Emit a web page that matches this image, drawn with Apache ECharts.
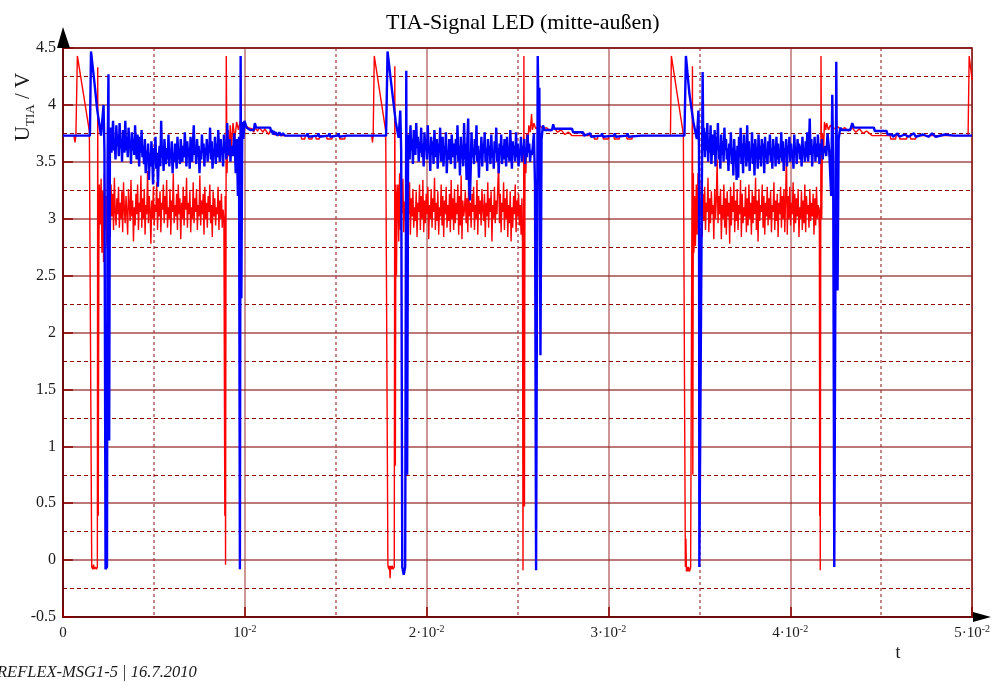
<!DOCTYPE html>
<html>
<head>
<meta charset="utf-8">
<script src="https://cdn.jsdelivr.net/npm/echarts@6/dist/echarts.min.js"></script>
<style>
  html, body { margin: 0; padding: 0; background: #fff; }
  #chart { width: 993px; height: 682px; }
</style>
</head>
<body>
<div id="chart"></div>
<script>
// time in ms (axis labels shown in seconds: 10 ms = 10^-2 s)
var xTicks = [0, 10, 20, 30, 40, 50];
var yTicks = [-0.5, 0, 0.5, 1, 1.5, 2, 2.5, 3, 3.5, 4, 4.5];

// ---- red trace ----
var redStart1 = [[0,3.73],[0.60,3.73],[0.66,3.67],[0.71,3.73],[0.79,4.43],[1.45,3.77],[1.54,3.76],[1.58,-0.06],[1.64,-0.08],[1.68,-0.04],[1.72,-0.08],[1.78,-0.06],[1.84,-0.08],[1.89,-0.06],[1.91,4.33],[1.94,0.39],[1.97,2.62],[2.0,3.3]];
var redNoise1 = [
  2.95,3.35,2.70,3.25,2.62,3.40,2.90,3.20,2.76,3.45,
  2.98,3.16,2.84,3.30,3.02,3.22,2.90,3.36,3.06,2.94,
  3.18,3.04,3.28,2.92,3.14,3.00,3.24,2.88,3.32,3.08,
  2.96,3.20,3.06,2.86,3.26,3.12,2.98,3.34,3.02,3.16,
  2.80,3.10,2.94,3.22,3.04,3.30,2.90,3.14,3.06,3.38,
  2.92,3.18,3.00,3.26,2.86,3.12,3.04,3.42,2.96,3.20,
  3.08,2.78,3.16,3.00,3.28,2.94,3.12,3.06,3.32,2.90,
  3.18,3.02,3.24,2.88,3.14,3.08,3.30,2.96,3.20,3.04,
  3.34,2.92,3.10,3.00,3.26,2.86,3.16,3.06,3.40,2.96,
  3.12,3.02,3.22,2.90,3.30,3.04,3.18,2.82,3.14,3.00,
  3.28,2.94,3.20,3.08,3.36,2.92,3.14,3.04,3.24,2.88,
  3.10,3.00,3.32,2.96,3.18,3.06,3.26,2.90,3.12,3.02,
  3.38,2.94,3.16,3.04,3.22,2.86,3.28,3.00,3.14,2.92,
  3.20,3.06,3.30,2.96,3.12,2.84,3.24,3.02,3.18,2.94,
  3.10,3.04,3.28,2.90,3.16,3.00,3.22,2.92,3.08,3.00];
var redTail1 = [[8.88,3.0],[8.90,0.39],[8.92,3.2],[8.94,-0.04],[8.98,4.43],[9.02,3.4],[9.08,3.78],[9.12,3.55],[9.2,3.82],[9.26,3.62],[9.35,3.84],[9.45,3.70],[9.55,3.85],[9.65,3.78],[9.75,3.86],[9.85,3.80],[10.0,3.82],[10.2,3.80],[10.4,3.79],[10.5,3.76],[10.55,3.80],[10.7,3.77],[10.8,3.80],[11.0,3.76],[11.1,3.79],[11.3,3.74],[11.4,3.77],[11.6,3.74],[12.0,3.73],[13.1,3.73],[13.12,3.70],[13.3,3.70],[13.32,3.73],[13.5,3.73],[13.52,3.70],[13.7,3.70],[13.72,3.73],[13.9,3.73],[13.92,3.70],[14.1,3.70],[14.12,3.73],[14.5,3.73],[14.52,3.70],[14.8,3.70],[14.82,3.73],[15.2,3.73],[15.22,3.70],[15.5,3.70],[15.52,3.73]];
var redStart2 = [[16.98,3.73],[17.02,3.67],[17.06,3.73],[17.12,4.43],[17.75,3.77],[17.83,3.76],[17.87,-0.05],[17.92,-0.08],[17.96,-0.05],[17.99,-0.16],[18.02,-0.05],[18.06,-0.08],[18.10,-0.05],[18.15,-0.08],[18.22,-0.06],[18.25,4.34],[18.28,0.83],[18.31,3.3],[18.34,2.5],[18.38,3.2]];
var redNoise2 = [
  3.30,2.80,3.40,2.90,3.20,3.05,3.35,2.88,3.15,3.00,
  3.28,2.94,3.12,3.04,3.32,2.86,3.18,3.02,3.26,2.92,
  3.10,2.98,3.24,2.84,3.14,3.06,3.30,2.90,3.20,3.00,
  3.34,2.88,3.16,2.96,3.22,3.04,3.28,2.82,3.12,3.00,
  3.26,2.92,3.18,3.06,3.36,2.90,3.14,2.98,3.24,2.86,
  3.10,3.02,3.30,2.94,3.20,2.84,3.16,3.04,3.28,2.92,
  3.12,2.98,3.22,2.88,3.34,3.00,3.18,2.90,3.26,2.96,
  3.14,3.04,3.30,2.86,3.20,2.94,3.38,2.82,3.16,3.02,
  3.08,3.24,2.96,3.18,2.88,3.30,3.02,3.14,2.92,3.22,
  3.06,3.28,2.90,3.12,3.00,3.34,2.86,3.20,3.04,3.16,
  2.94,3.26,3.08,2.98,3.22,2.84,3.14,3.02,3.32,2.92,
  3.18,3.06,3.24,2.80,3.12,3.00,3.28,2.96,3.16,3.04,
  3.28,3.48,2.96,3.22,2.88,3.14,3.06,3.32,2.90,3.18,
  3.00,3.26,2.84,3.12,2.96,3.24,2.80,3.10,2.92,3.20,
  3.04,3.30,2.88,3.16,3.02,3.22,2.94,3.12,2.86,3.18];
var redTail2 = [[25.27,2.8],[25.30,-0.09],[25.35,4.43],[25.38,0.47],[25.41,3.6],[25.46,3.4],[25.50,3.75],[25.56,3.6],[25.62,3.82],[25.70,3.76],[25.77,3.92],[25.82,3.78],[25.90,3.84],[26.0,3.79],[26.2,3.82],[26.4,3.79],[26.6,3.80],[26.8,3.77],[27.0,3.80],[27.2,3.76],[27.4,3.78],[27.6,3.74],[27.8,3.76],[28.0,3.73],[29.2,3.73],[29.22,3.70],[29.4,3.70],[29.42,3.73],[29.7,3.73],[29.72,3.70],[30.0,3.70],[30.02,3.73],[30.3,3.73],[30.32,3.70],[30.6,3.70],[30.62,3.73],[31.0,3.73],[31.02,3.70],[31.3,3.70],[31.32,3.73]];
var redStart3 = [[33.41,3.73],[33.46,4.43],[34.12,3.74],[34.20,3.74],[34.23,-0.06],[34.26,0.19],[34.29,-0.1],[34.33,-0.06],[34.37,-0.1],[34.41,-0.06],[34.45,-0.1],[34.52,-0.07],[34.58,-0.06],[34.62,4.34],[34.64,0.75],[34.67,3.4],[34.70,2.7]];
var redNoise3 = [
  3.20,2.76,3.30,2.86,3.40,2.94,3.16,3.02,3.34,2.84,
  3.22,2.98,3.28,2.90,3.14,3.06,3.36,2.88,3.18,2.96,
  3.24,3.04,3.12,2.82,3.26,3.00,3.18,3.52,2.96,3.20,
  3.04,3.26,2.82,3.12,3.00,3.30,2.92,3.18,2.86,3.24,
  3.02,3.14,2.78,3.28,2.94,3.20,3.06,3.32,2.88,3.16,
  2.98,3.26,2.90,3.12,3.04,3.34,2.84,3.22,2.96,3.10,
  3.02,3.28,2.88,3.18,2.94,3.30,3.00,3.14,2.86,3.24,
  2.96,3.20,3.04,3.36,2.90,3.16,2.80,3.26,2.98,3.12,
  3.06,3.30,2.92,3.20,2.86,3.14,3.02,3.28,2.94,3.18,
  3.00,3.24,2.88,3.12,3.06,3.32,2.90,3.16,2.98,3.22,
  2.84,3.14,3.04,3.28,2.92,3.20,3.00,3.26,2.88,3.18,
  3.55,2.86,3.20,3.00,3.28,2.94,3.14,3.04,3.32,2.88,
  3.22,2.96,3.18,3.02,3.26,2.84,3.10,3.00,3.24,2.90,
  3.16,2.96,3.30,2.88,3.20,3.04,3.12,2.92,3.26,2.98,
  3.14,3.02,3.22,2.86,3.18,2.94,3.28,3.00,3.12,3.04];
var redTail3 = [[41.60,2.9],[41.62,0.39],[41.64,3.1],[41.65,-0.09],[41.69,4.43],[41.73,3.0],[41.77,3.75],[41.82,3.55],[41.88,3.85],[41.95,3.78],[42.0,3.84],[42.1,3.78],[42.2,3.82],[42.4,3.79],[42.6,3.81],[42.8,3.78],[43.0,3.80],[43.2,3.77],[43.4,3.80],[43.6,3.76],[43.8,3.79],[44.0,3.75],[44.2,3.77],[44.5,3.73],[45.5,3.73],[45.52,3.70],[45.8,3.70],[45.82,3.73],[46.0,3.73],[46.02,3.70],[46.4,3.70],[46.42,3.73],[46.6,3.73],[46.62,3.70],[46.9,3.70],[46.92,3.73],[49.78,3.73],[49.84,4.43],[50.0,4.22]];
var redNoiseSpans = [[2.05, 8.85], [18.42, 25.24], [34.74, 41.58]];

// ---- blue trace ----
var blueStart1 = [[0,3.73],[1.48,3.73],[1.54,4.47],[1.76,4.15],[1.87,3.97],[1.98,3.85],[2.09,3.73],[2.17,3.72],[2.23,4.0],[2.28,3.6],[2.34,-0.08],[2.42,-0.06],[2.45,3.5],[2.50,4.27],[2.54,1.05],[2.58,3.6]];
var blueNoise1 = [
  3.80,3.58,3.72,3.86,3.60,3.68,3.52,3.82,3.64,3.74,
  3.55,3.84,3.62,3.70,3.50,3.78,3.66,3.58,3.86,3.60,
  3.72,3.54,3.80,3.64,3.68,3.48,3.76,3.60,3.70,3.56,
  3.82,3.62,3.52,3.74,3.66,3.46,3.72,3.58,3.78,3.54,
  3.64,3.48,3.70,3.40,3.60,3.52,3.66,3.34,3.58,3.46,
  3.68,3.56,3.30,3.62,3.50,3.72,3.44,3.58,3.28,3.52,
  3.64,3.46,3.86,3.54,3.60,3.42,3.70,3.56,3.48,3.62,
  3.52,3.74,3.46,3.60,3.54,3.68,3.40,3.58,3.50,3.66,
  3.56,3.44,3.72,3.52,3.62,3.48,3.70,3.58,3.50,3.64,
  3.54,3.76,3.60,3.46,3.68,3.56,3.62,3.44,3.72,3.58,
  3.50,3.66,3.82,3.56,3.62,3.48,3.70,3.54,3.64,3.40,
  3.60,3.52,3.74,3.58,3.66,3.46,3.62,3.56,3.70,3.50,
  3.64,3.58,3.80,3.52,3.68,3.44,3.60,3.56,3.72,3.48,
  3.66,3.54,3.78,3.60,3.50,3.70,3.56,3.62,3.46,3.74,
  3.58,3.66,3.52,3.84,3.60,3.56,3.70,3.50,3.64,3.58];
var blueTail1 = [[9.34,3.55],[9.42,3.75],[9.50,3.4],[9.56,3.7],[9.62,3.2],[9.68,3.72],[9.73,-0.08],[9.77,4.43],[9.81,2.3],[9.86,3.85],[9.92,3.7],[9.98,3.86],[10.1,3.80],[10.3,3.78],[10.5,3.78],[10.55,3.84],[10.62,3.80],[11.4,3.80],[11.45,3.76],[11.5,3.78],[11.55,3.74],[11.6,3.77],[11.65,3.74],[11.7,3.76],[11.8,3.73],[11.9,3.76],[12.0,3.73],[12.1,3.75],[12.2,3.73],[13.4,3.73],[13.45,3.75],[13.5,3.72],[14.0,3.73],[14.05,3.75],[14.1,3.72],[14.6,3.73],[14.65,3.75],[14.7,3.72],[15.1,3.73],[15.15,3.75],[15.2,3.72],[15.6,3.73]];
var blueStart2 = [[17.77,3.73],[17.85,4.47],[18.08,4.15],[18.30,3.85],[18.46,3.71],[18.55,3.95],[18.60,3.6],[18.66,-0.06],[18.74,-0.13],[18.82,-0.06],[18.88,4.3],[18.93,0.75],[18.98,3.6]];
var blueNoise2 = [
  3.74,3.52,3.82,3.60,3.70,3.48,3.78,3.64,3.56,3.84,
  3.62,3.72,3.50,3.68,3.58,3.80,3.54,3.66,3.46,3.76,
  3.60,3.70,3.52,3.82,3.58,3.64,3.42,3.72,3.56,3.68,
  3.48,3.78,3.62,3.54,3.70,3.44,3.66,3.58,3.80,3.50,
  3.62,3.72,3.46,3.64,3.56,3.76,3.40,3.60,3.52,3.70,
  3.58,3.48,3.74,3.62,3.54,3.66,3.44,3.70,3.56,3.82,
  3.50,3.64,3.38,3.72,3.56,3.60,3.46,3.84,3.52,3.66,
  3.34,3.70,3.88,3.30,3.16,3.42,3.76,3.54,3.62,3.48,
  3.70,3.56,3.82,3.50,3.64,3.36,3.60,3.54,3.72,3.46,
  3.66,3.58,3.76,3.50,3.62,3.42,3.70,3.56,3.64,3.48,
  3.74,3.54,3.60,3.44,3.68,3.58,3.80,3.50,3.62,3.40,
  3.66,3.56,3.74,3.48,3.64,3.52,3.70,3.58,3.46,3.72,
  3.54,3.62,3.50,3.78,3.60,3.44,3.68,3.56,3.64,3.50,
  3.76,3.54,3.66,3.46,3.60,3.58,3.72,3.50,3.64,3.56,
  3.70,3.48,3.62,3.54,3.74,3.58,3.66,3.50,3.60,3.56];
var blueTail2 = [[25.82,3.6],[25.90,3.75],[25.96,3.3],[26.02,-0.09],[26.11,4.43],[26.16,3.9],[26.20,4.15],[26.26,1.8],[26.32,3.7],[26.40,3.82],[26.48,3.78],[26.9,3.78],[26.96,3.83],[27.02,3.79],[28.0,3.79],[28.05,3.76],[28.6,3.76],[28.65,3.73],[29.0,3.75],[29.05,3.72],[29.6,3.73],[29.65,3.75],[29.7,3.72],[30.3,3.73],[30.35,3.75],[30.4,3.72],[31.0,3.73],[31.05,3.75],[31.1,3.72],[31.8,3.73]];
var blueStart3 = [[34.18,3.73],[34.26,4.43],[34.45,4.1],[34.67,3.85],[34.86,3.7],[34.95,3.95],[34.98,3.6],[35.0,-0.06],[35.11,-0.06],[35.18,4.29],[35.22,3.6]];
var blueNoise3 = [
  3.80,3.54,3.76,3.60,3.84,3.50,3.70,3.58,3.82,3.48,
  3.66,3.74,3.56,3.78,3.46,3.72,3.60,3.84,3.52,3.64,
  3.44,3.74,3.56,3.68,3.50,3.80,3.60,3.70,3.52,3.62,
  3.42,3.66,3.56,3.76,3.48,3.62,3.38,3.70,3.54,3.60,
  3.34,3.64,3.36,3.72,3.54,3.80,3.48,3.66,3.40,3.74,
  3.58,3.62,3.46,3.82,3.50,3.68,3.42,3.60,3.54,3.76,
  3.48,3.66,3.38,3.70,3.56,3.62,3.44,3.74,3.52,3.64,
  3.46,3.70,3.58,3.66,3.40,3.72,3.54,3.60,3.48,3.68,
  3.56,3.74,3.50,3.62,3.44,3.70,3.58,3.64,3.46,3.72,
  3.52,3.66,3.48,3.60,3.54,3.76,3.50,3.68,3.42,3.62,
  3.56,3.70,3.46,3.64,3.58,3.72,3.50,3.66,3.54,3.60,
  3.44,3.74,3.56,3.62,3.48,3.70,3.58,3.66,3.52,3.64,
  3.46,3.72,3.56,3.60,3.50,3.68,3.54,3.76,3.50,3.62,
  3.88,3.56,3.70,3.46,3.64,3.58,3.72,3.50,3.66,3.54,
  3.74,3.60,3.48,3.66,3.56,3.70,3.52,3.62,3.58,3.64];
var blueTail3 = [[41.98,3.55],[42.05,3.75],[42.14,3.6],[42.25,3.2],[42.31,4.09],[42.36,3.5],[42.42,-0.06],[42.53,4.38],[42.60,2.37],[42.66,3.7],[42.75,3.8],[42.82,3.78],[43.3,3.78],[43.41,3.84],[43.5,3.80],[44.6,3.80],[44.65,3.77],[45.3,3.77],[45.35,3.74],[45.6,3.74],[45.65,3.72],[45.9,3.75],[46.0,3.72],[46.3,3.74],[46.5,3.72],[46.8,3.75],[46.9,3.72],[47.3,3.74],[47.6,3.72],[47.8,3.75],[48.0,3.72],[48.5,3.74],[49.0,3.73],[50.0,3.73]];
var blueNoiseSpans = [[2.62, 9.30], [19.02, 25.78], [35.26, 41.92]];

// sampled segments: values at a constant sampling step inside a span
function sampled(span, vals) {
  var dt = (span[1] - span[0]) / (vals.length - 1);
  return vals.map(function (v, i) { return [span[0] + i * dt, v]; });
}

var redData = [].concat(
  redStart1, sampled(redNoiseSpans[0], redNoise1), redTail1,
  redStart2, sampled(redNoiseSpans[1], redNoise2), redTail2,
  redStart3, sampled(redNoiseSpans[2], redNoise3), redTail3);
var blueData = [].concat(
  blueStart1, sampled(blueNoiseSpans[0], blueNoise1), blueTail1,
  blueStart2, sampled(blueNoiseSpans[1], blueNoise2), blueTail2,
  blueStart3, sampled(blueNoiseSpans[2], blueNoise3), blueTail3);

var G = { left: 63, right: 20, top: 48, bottom: 65 };
var W = 993, H = 682;
var serif = 'Liberation Serif';

var myChart = echarts.init(document.getElementById('chart'));
myChart.setOption({
  animation: false,
  backgroundColor: '#fff',
  title: {
    text: 'TIA-Signal LED (mitte-außen)',
    left: 381,
    top: 7,
    textStyle: { fontFamily: serif, fontSize: 22, fontWeight: 'normal', color: '#000' }
  },
  grid: {
    left: G.left, right: G.right, top: G.top, bottom: G.bottom,
    show: true, borderColor: '#7a0a0a', borderWidth: 1.5, backgroundColor: 'transparent'
  },
  xAxis: {
    type: 'value',
    min: xTicks[0],
    max: xTicks[xTicks.length - 1],
    interval: 10,
    axisLine: { show: true, onZero: false, lineStyle: { color: '#6b0b0b', width: 2 } },
    axisTick: { show: true, inside: true, length: 10, lineStyle: { color: '#8b0000', width: 1.5 } },
    minorTick: { show: false, splitNumber: 2 },
    splitLine: { show: true, lineStyle: { color: 'rgba(150,40,40,0.65)', width: 1.5 } },
    minorSplitLine: { show: true, lineStyle: { color: 'rgba(150,40,40,0.75)', width: 1.5, type: [3, 3] } },
    axisLabel: {
      margin: 7,
      color: '#1a1a1a',
      fontFamily: serif,
      fontSize: 15,
      formatter: function (v) {
        if (v === 0) return '{b|0}';
        var k = Math.round(v / 10);
        return k === 1 ? '{b|10}{p|-2}' : '{b|' + k + '·10}{p|-2}';
      },
      rich: {
        b: { fontFamily: serif, fontSize: 15, color: '#1a1a1a', lineHeight: 18 },
        p: { fontFamily: serif, fontSize: 10, color: '#1a1a1a', verticalAlign: 'top', lineHeight: 10 }
      }
    }
  },
  yAxis: {
    type: 'value',
    min: yTicks[0],
    max: yTicks[yTicks.length - 1],
    interval: 0.5,
    axisLine: { show: true, onZero: false, lineStyle: { color: '#6b0b0b', width: 2 } },
    axisTick: { show: true, inside: true, length: 10, lineStyle: { color: '#8b0000', width: 1.5 } },
    minorTick: { show: false, splitNumber: 2 },
    splitLine: { show: true, lineStyle: { color: 'rgba(128,0,0,0.7)', width: 1.5 } },
    minorSplitLine: { show: true, lineStyle: { color: '#8b0000', width: 1, type: [4, 3] } },
    axisLabel: { margin: 7, color: '#1a1a1a', fontFamily: serif, fontSize: 16 }
  },
  series: [
    {
      name: 'rot',
      type: 'line',
      data: redData,
      showSymbol: false,
      sampling: 'none',
      lineStyle: { color: '#ff0000', width: 1.4 },
      itemStyle: { color: '#ff0000' },
      z: 3
    },
    {
      name: 'blau',
      type: 'line',
      data: blueData,
      showSymbol: false,
      sampling: 'none',
      lineStyle: { color: '#0000ff', width: 2.4 },
      itemStyle: { color: '#0000ff' },
      z: 4
    }
  ],
  graphic: [
    { // y-axis arrow
      type: 'polygon', z: 100,
      shape: { points: [[G.left - 6, G.top], [G.left + 7, G.top], [G.left, G.top - 21]] },
      style: { fill: '#000' }
    },
    { // x-axis arrow
      type: 'polygon', z: 100,
      shape: { points: [[W - G.right, H - G.bottom - 5], [W - G.right, H - G.bottom + 5], [W - G.right + 18, H - G.bottom]] },
      style: { fill: '#000' }
    },
    {
      type: 'text', z: 100,
      x: 22, y: 107, rotation: Math.PI / 2,
      style: {
        text: '{u|U}{s|TIA}{u| / V}',
        align: 'center', verticalAlign: 'middle',
        rich: {
          u: { fontFamily: serif, fontSize: 21, fill: '#1a1a1a', lineHeight: 24, verticalAlign: 'bottom' },
          s: { fontFamily: serif, fontSize: 13, fill: '#1a1a1a', lineHeight: 24, verticalAlign: 'bottom', padding: [0, 0, -3, 0] }
        }
      }
    },
    {
      type: 'text', z: 100,
      x: 898, y: 653,
      style: { text: 't', fontFamily: serif, fontSize: 18, fill: '#1a1a1a', align: 'center', verticalAlign: 'middle' }
    },
    {
      type: 'text', z: 100,
      x: -3, y: 673,
      style: { text: 'REFLEX-MSG1-5 | 16.7.2010', fontFamily: serif, fontStyle: 'italic', fontSize: 16.5, fill: '#1a1a1a', align: 'left', verticalAlign: 'middle' }
    }
  ]
});
</script>
</body>
</html>
